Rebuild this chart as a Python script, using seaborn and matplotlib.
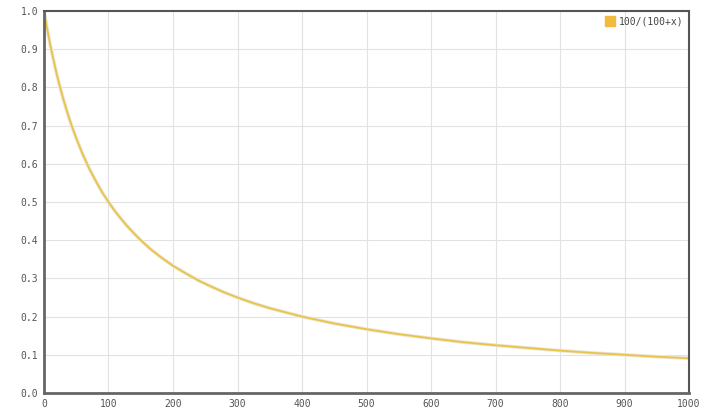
import seaborn as sns
import matplotlib.pyplot as plt
import pandas as pd

# Werte
x_vals = [0, 5, 10, 15, 20, 25, 30, 35, 40, 45, 50, 60, 70, 80, 90, 100, 110, 120,
          130, 140, 150, 165, 180, 200, 220, 240, 260, 280, 300, 325, 350, 375, 400,
          450, 500, 550, 600, 650, 700, 750, 800, 850, 900, 950, 1000]
y_vals = [1.0, 0.952, 0.909, 0.870, 0.833, 0.8, 0.769, 0.741, 0.714, 0.690, 0.667,
          0.625, 0.588, 0.556, 0.526, 0.5, 0.476, 0.455, 0.435, 0.417, 0.4, 0.377,
          0.357, 0.333, 0.313, 0.294, 0.278, 0.263, 0.25, 0.235, 0.222, 0.211, 0.2,
          0.182, 0.167, 0.154, 0.143, 0.133, 0.125, 0.118, 0.111, 0.105, 0.1, 0.095,
          0.091]
series_name = "100/(100+x)"
x_ticks = [0, 100, 200, 300, 400, 500, 600, 700, 800, 900, 1000]
y_ticks = [0.0, 0.1, 0.2, 0.3, 0.4, 0.5, 0.6, 0.7, 0.8, 0.9, 1.0]

df = pd.DataFrame({"x": x_vals, "y": y_vals})

sns.set_style("white")
plt.rcParams['font.family'] = ['DejaVu Sans Mono']

fig = plt.figure(figsize=(7.2, 4.15), dpi=100)
ax = fig.add_axes([0.0611, 0.053, 0.8959, 0.9205])

# leichter Schatten unter der Linie
sns.lineplot(data=df, x="x", y="y", ax=ax, color="#ece6d6", linewidth=2.6, legend=False)
sns.lineplot(data=df, x="x", y="y", ax=ax, color="#e8c548", linewidth=1.3, legend=False)

ax.set_xlim(0, 1000)
ax.set_ylim(0, 1.0)
ax.set_xticks(x_ticks)
ax.set_yticks(y_ticks)
ax.set_xticklabels([str(t) for t in x_ticks], fontsize=7, color="#555555")
ax.set_yticklabels([f"{t:.1f}" for t in y_ticks], fontsize=7, color="#555555")
ax.set_xlabel("")
ax.set_ylabel("")
ax.grid(True, color="#e2e2e2", linewidth=0.8)
ax.tick_params(length=0, pad=4)

for side in ["left", "bottom"]:
    ax.spines[side].set_color("#666666")
    ax.spines[side].set_linewidth(2)
for side in ["top", "right"]:
    ax.spines[side].set_color("#555555")
    ax.spines[side].set_linewidth(1.5)

# Legende oben rechts
ax.plot([], [], marker="s", linestyle="none", markersize=7, color="#f2bb3e", label=series_name)
ax.legend(loc="upper right", frameon=False, fontsize=7, handletextpad=0.4,
          borderaxespad=0.25, borderpad=0.3, handlelength=1.0, labelcolor="#444444")

fig.savefig("out.png", dpi=100)
